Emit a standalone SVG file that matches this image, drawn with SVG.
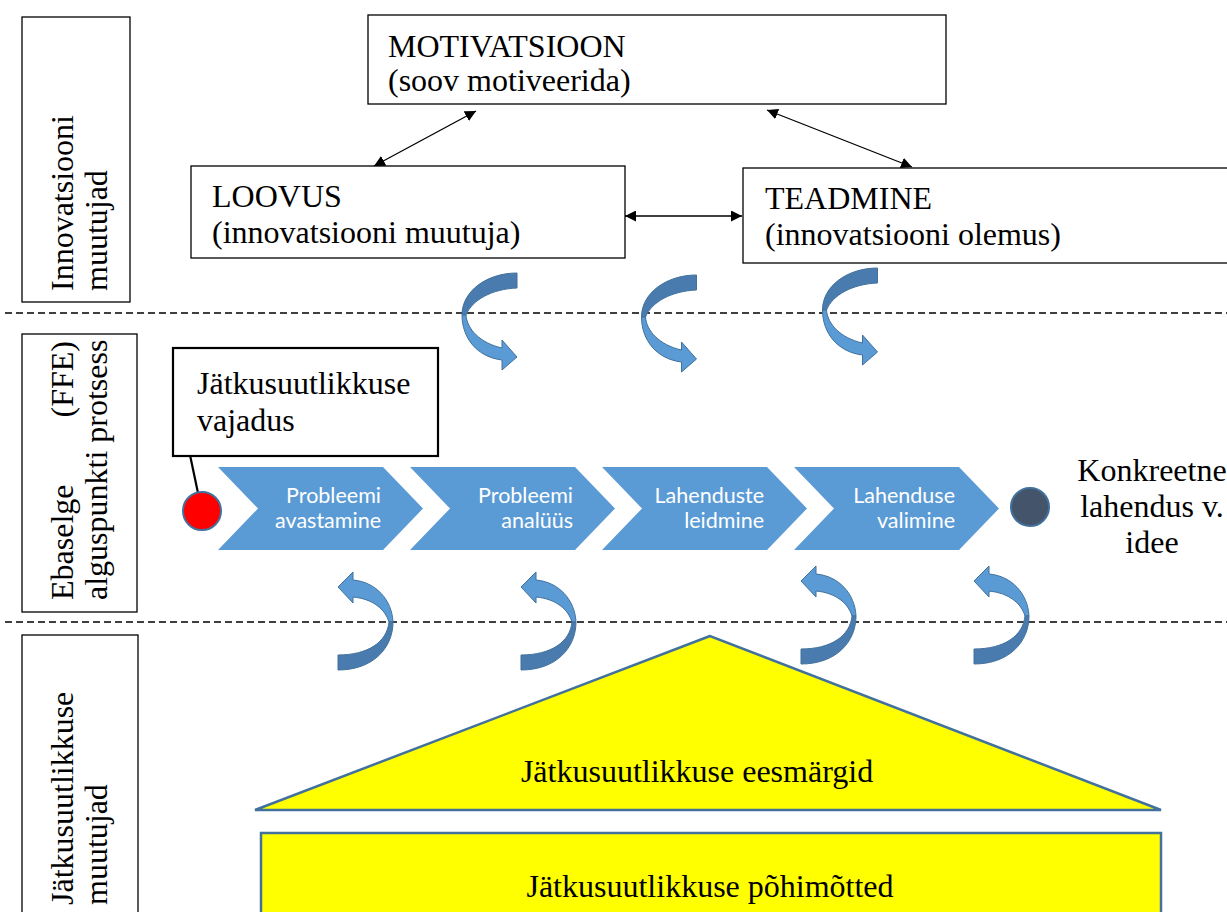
<svg xmlns="http://www.w3.org/2000/svg" width="1227" height="912" viewBox="0 0 1227 912">
<defs>
<style>
.t{font-family:"Liberation Serif","Times New Roman",serif;font-size:32px;fill:#000}
.box{fill:#fff;stroke:#000;stroke-width:1.3}
.lbl{fill:#fff;stroke:#000;stroke-width:1.3}
.chev{fill:#5b9bd5}
.ct{font-family:Lato,"Open Sans",sans-serif;font-size:21.5px;fill:#fff;text-anchor:end}
.dash{stroke:#000;stroke-width:1.3;stroke-dasharray:7 4;fill:none}
.conn{stroke:#000;stroke-width:1.3;fill:none;marker-start:url(#ah);marker-end:url(#ah)}
.dk{fill:#4a7bae;stroke:#41719c;stroke-width:1}
.lt{fill:#5b9bd5;stroke:#41719c;stroke-width:1}
.ylw{fill:#ffff00;stroke:#41719c;stroke-width:2.5}
</style>
<marker id="ah" viewBox="0 0 10 10" refX="10" refY="5" markerWidth="11" markerHeight="11" markerUnits="userSpaceOnUse" orient="auto-start-reverse">
<path d="M0,0 L10,5 L0,10 Z" fill="#000"/>
</marker>
<g id="tarrow">
<path class="dk" d="M55,0 L55,15 C30,16 10,27 4,42 L0,42 C0,18 25,0 55,0 Z"/>
<path class="lt" d="M0,42 L4,42 C5,56 18,70 40,75 L40,67 L55,84 L40,97 L40,87 C15,84 0,65 0,42 Z"/>
</g>
<g id="barrow">
<path class="lt" d="M0,15 L15,0 L15,8 C38,10 54,28 55,50 L51,50 C47,37 35,27 15,25 L15,31 Z"/>
<path class="dk" d="M55,50 C55,76 35,98 0,98 L0,83 C30,83 49,70 51,50 Z"/>
</g>
</defs>
<rect width="1227" height="912" fill="#fff"/>

<g id="section-lines">
<line class="dash" x1="5" y1="313" x2="1227" y2="313"/>
<line class="dash" x1="5" y1="622" x2="1227" y2="622"/>
</g>

<g id="label-innovatsiooni">
<rect class="lbl" x="22" y="17" width="108" height="285"/>
<text class="t" transform="translate(73,291) rotate(-90)">Innovatsiooni</text>
<text class="t" transform="translate(107,291) rotate(-90)">muutujad</text>
</g>
<g id="label-ffe">
<rect class="lbl" x="22" y="334" width="115" height="278"/>
<text class="t" transform="translate(73,600) rotate(-90)">Ebaselge</text>
<text class="t" transform="translate(73,341) rotate(-90)" text-anchor="end">(FFE)</text>
<text class="t" transform="translate(107,600) rotate(-90)">alguspunkti protsess</text>
</g>
<g id="label-jatkusuutlikkuse">
<rect class="lbl" x="22" y="635" width="116" height="300"/>
<text class="t" transform="translate(73,905) rotate(-90)">Jätkusuutlikkuse</text>
<text class="t" transform="translate(107,905) rotate(-90)">muutujad</text>
</g>

<g id="motivatsioon">
<rect class="box" x="368" y="15" width="578" height="89"/>
<text class="t" x="388" y="57">MOTIVATSIOON</text>
<text class="t" x="388" y="91">(soov motiveerida)</text>
</g>
<g id="loovus">
<rect class="box" x="191" y="166" width="434" height="92"/>
<text class="t" x="212" y="207">LOOVUS</text>
<text class="t" x="212" y="243">(innovatsiooni muutuja)</text>
</g>
<g id="teadmine">
<rect class="box" x="743" y="168" width="500" height="95"/>
<text class="t" x="765" y="209">TEADMINE</text>
<text class="t" x="765" y="245">(innovatsiooni olemus)</text>
</g>

<g id="connectors">
<line class="conn" x1="476" y1="111" x2="374" y2="166"/>
<line class="conn" x1="767" y1="110" x2="912" y2="167"/>
<line class="conn" x1="625" y1="216" x2="742" y2="216"/>
<line x1="190" y1="455" x2="198" y2="493" stroke="#000" stroke-width="2.2"/>
</g>

<g id="top-curved-arrows">
<use href="#tarrow" transform="translate(462,273)"/>
<use href="#tarrow" transform="translate(641.5,275)"/>
<use href="#tarrow" transform="translate(822.5,268)"/>
</g>

<g id="vajadus">
<rect x="173" y="348" width="265" height="108" fill="#fff" stroke="#000" stroke-width="2.2"/>
<text class="t" x="197" y="394">Jätkusuutlikkuse</text>
<text class="t" x="197" y="431">vajadus</text>
</g>

<g id="start-dot"><circle cx="202" cy="511" r="19" fill="#ff0000" stroke="#41719c" stroke-width="2"/></g>

<g id="step1">
<path class="chev" d="M218,467 L383,467 L423,508.5 L383,550 L218,550 L258,508.5 Z"/>
<text class="ct" x="381" y="503">Probleemi</text>
<text class="ct" x="381" y="528">avastamine</text>
</g>
<g id="step2">
<path class="chev" d="M410,467 L575,467 L615,508.5 L575,550 L410,550 L450,508.5 Z"/>
<text class="ct" x="573" y="503">Probleemi</text>
<text class="ct" x="573" y="528">analüüs</text>
</g>
<g id="step3">
<path class="chev" d="M602,467 L767,467 L807,508.5 L767,550 L602,550 L642,508.5 Z"/>
<text class="ct" x="764" y="503">Lahenduste</text>
<text class="ct" x="764" y="528">leidmine</text>
</g>
<g id="step4">
<path class="chev" d="M794,467 L959,467 L999,508.5 L959,550 L794,550 L834,508.5 Z"/>
<text class="ct" x="955" y="503">Lahenduse</text>
<text class="ct" x="955" y="528">valimine</text>
</g>

<g id="end-dot"><circle cx="1030" cy="507" r="19" fill="#44546a" stroke="#41719c" stroke-width="2"/></g>
<g id="result">
<text class="t" x="1152" y="481" text-anchor="middle">Konkreetne</text>
<text class="t" x="1152" y="517" text-anchor="middle">lahendus v.</text>
<text class="t" x="1152" y="553" text-anchor="middle">idee</text>
</g>

<g id="bottom-curved-arrows">
<use href="#barrow" transform="translate(338,572)"/>
<use href="#barrow" transform="translate(521,572)"/>
<use href="#barrow" transform="translate(801,566)"/>
<use href="#barrow" transform="translate(974,566)"/>
</g>

<g id="eesmargid">
<polygon class="ylw" points="710,636 255,810 1161,810"/>
<text class="t" x="697" y="782" text-anchor="middle">Jätkusuutlikkuse eesmärgid</text>
</g>
<g id="pohimotted">
<rect class="ylw" x="261" y="833" width="900" height="100"/>
<text class="t" x="710" y="897" text-anchor="middle">Jätkusuutlikkuse põhimõtted</text>
</g>
</svg>
